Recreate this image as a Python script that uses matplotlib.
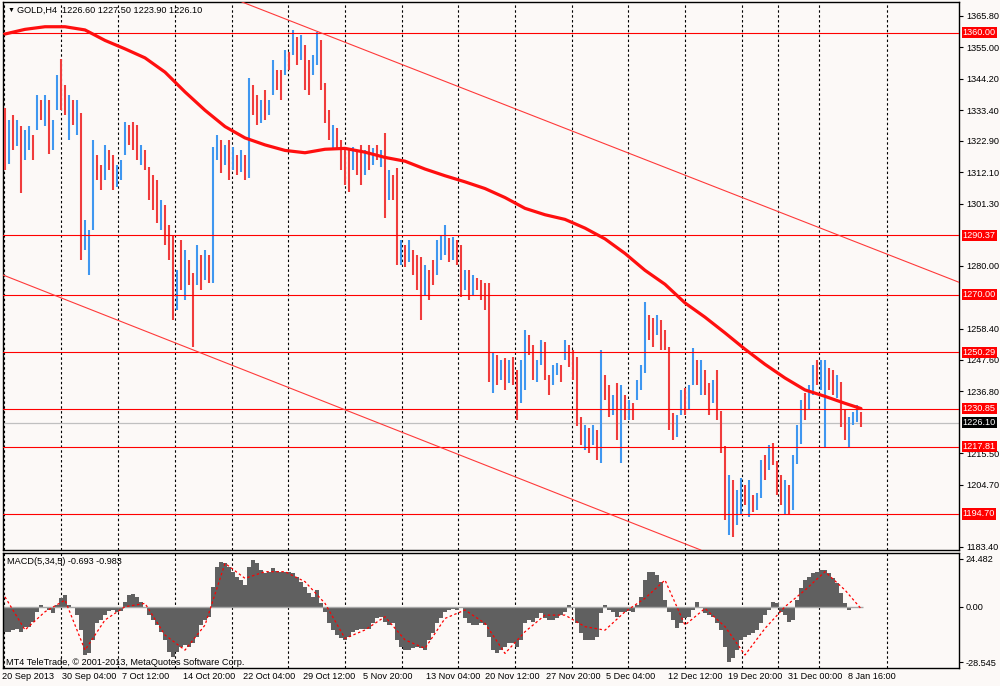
import numpy as np
import matplotlib
matplotlib.use("Agg")
import matplotlib.pyplot as plt
from matplotlib.transforms import blended_transform_factory

plt.rcParams['font.family'] = ['Liberation Sans', 'DejaVu Sans']

# GOLD H4 bars (one entry per bar)
highs = [1334.2, 1330.0, 1331.8, 1330.0, 1328.0, 1326.6, 1328.0, 1325.0, 1338.6, 1336.9,
         1338.6, 1336.9, 1330.0, 1345.5, 1351.0, 1342.0, 1338.6, 1336.9, 1336.9, 1332.5,
         1295.7, 1292.3, 1323.2, 1318.0, 1314.6, 1321.5, 1319.8, 1318.0, 1314.6, 1316.3,
         1329.4, 1328.3, 1329.4, 1328.3, 1321.5, 1319.8, 1313.9, 1311.2, 1309.4, 1302.6,
         1300.9, 1294.0, 1290.5, 1278.5, 1288.8, 1285.4, 1282.0, 1277.5, 1287.1, 1283.7,
         1285.4, 1283.7, 1320.8, 1324.9, 1323.2, 1321.5, 1323.2, 1320.8, 1318.0, 1319.8,
         1318.0, 1344.5, 1342.0, 1338.6, 1336.9, 1340.4, 1336.9, 1350.7, 1347.2, 1347.2,
         1354.1, 1353.4, 1361.0, 1358.6, 1359.3, 1355.8, 1350.7, 1352.4, 1360.3, 1357.6,
         1342.8, 1333.5, 1328.3, 1327.3, 1323.2, 1319.8, 1319.8, 1320.8, 1319.8, 1321.5,
         1319.8, 1321.5, 1320.4, 1321.5, 1319.8, 1325.6, 1312.9, 1311.2, 1313.6, 1288.8,
         1287.1, 1288.8, 1285.4, 1283.7, 1283.0, 1280.2, 1278.5, 1282.0, 1288.8, 1290.5,
         1294.0, 1289.5, 1289.8, 1288.8, 1287.1, 1278.5, 1278.5, 1276.8, 1275.8, 1275.1,
         1274.0, 1274.0, 1250.0, 1249.3, 1247.6, 1248.3, 1247.6, 1248.6, 1244.2, 1247.6,
         1257.9, 1256.2, 1252.8, 1247.6, 1254.5, 1253.8, 1242.4, 1245.9, 1246.6, 1245.9,
         1254.5, 1252.8, 1251.0, 1248.6, 1228.0, 1225.2, 1224.2, 1225.2, 1223.5, 1251.0,
         1242.4, 1239.0, 1235.5, 1239.7, 1239.0, 1235.5, 1233.8, 1232.8, 1240.7, 1245.9,
         1267.5, 1263.0, 1262.0, 1263.0, 1261.3, 1257.9, 1252.0, 1229.4, 1228.7, 1237.3,
         1238.0, 1239.0, 1251.7, 1247.6, 1247.6, 1244.2, 1239.7, 1240.7, 1244.2, 1230.0,
         1218.0, 1208.0, 1206.4, 1202.9, 1207.0, 1204.6, 1206.4, 1201.2, 1201.9, 1213.2,
         1214.9, 1218.4, 1219.0, 1213.0, 1208.0, 1206.4, 1204.6, 1214.9, 1225.2, 1233.8,
         1236.2, 1239.0, 1245.9, 1247.6, 1247.6, 1247.6, 1244.8, 1244.2, 1242.4, 1240.0,
         1230.4, 1228.0, 1229.7, 1232.1, 1229.7]
lows = [1312.9, 1315.0, 1319.8, 1321.0, 1305.0, 1316.3, 1319.8, 1316.3, 1326.6, 1330.0,
        1328.0, 1318.5, 1319.8, 1333.5, 1333.5, 1331.8, 1323.2, 1328.3, 1325.0, 1282.0,
        1285.4, 1276.8, 1292.3, 1309.4, 1306.0, 1309.4, 1312.9, 1306.0, 1307.0, 1309.4,
        1318.0, 1321.5, 1319.8, 1316.3, 1314.6, 1312.9, 1302.6, 1299.1, 1294.7, 1292.3,
        1287.1, 1282.0, 1261.3, 1264.8, 1271.6, 1268.2, 1273.4, 1252.0, 1273.4, 1271.6,
        1275.1, 1274.0, 1274.0, 1316.3, 1311.9, 1314.6, 1309.4, 1312.9, 1311.2, 1312.2,
        1309.4, 1310.0, 1331.8, 1328.3, 1329.0, 1330.0, 1331.8, 1338.6, 1340.4, 1336.9,
        1345.5, 1347.2, 1352.4, 1349.0, 1350.7, 1340.4, 1338.6, 1345.5, 1349.0, 1340.4,
        1329.0, 1323.2, 1319.8, 1319.8, 1312.9, 1307.7, 1305.3, 1312.9, 1311.2, 1307.7,
        1311.2, 1312.9, 1314.6, 1316.3, 1313.9, 1296.4, 1302.6, 1302.6, 1280.3, 1280.3,
        1279.5, 1281.3, 1276.8, 1271.6, 1261.3, 1269.9, 1268.2, 1273.4, 1276.8, 1282.0,
        1283.7, 1281.3, 1282.0, 1280.3, 1269.2, 1271.6, 1268.2, 1269.9, 1271.6, 1268.2,
        1264.8, 1240.0, 1236.2, 1239.0, 1240.7, 1237.3, 1239.7, 1239.0, 1227.0, 1232.8,
        1237.3, 1249.3, 1240.7, 1240.0, 1245.9, 1240.7, 1235.5, 1239.0, 1242.4, 1240.0,
        1247.6, 1245.2, 1240.7, 1225.0, 1218.4, 1216.7, 1215.6, 1218.4, 1213.2, 1212.2,
        1233.8, 1228.0, 1228.7, 1220.1, 1212.2, 1227.0, 1227.0, 1227.0, 1233.8, 1237.3,
        1243.0, 1254.5, 1252.2, 1256.2, 1251.0, 1251.0, 1223.5, 1220.1, 1221.1, 1228.7,
        1228.7, 1230.4, 1239.0, 1239.0, 1235.5, 1235.5, 1228.7, 1232.8, 1227.0, 1215.6,
        1192.6, 1187.5, 1186.8, 1191.0, 1194.3, 1197.8, 1193.7, 1195.4, 1196.0, 1200.0,
        1206.4, 1209.8, 1211.5, 1201.2, 1197.8, 1194.3, 1194.3, 1196.0, 1212.0, 1218.7,
        1227.0, 1230.4, 1235.5, 1239.0, 1237.3, 1217.7, 1237.3, 1235.5, 1234.5, 1224.5,
        1220.1, 1217.7, 1225.2, 1226.3, 1224.5]
closes = [1318, 1325, 1322, 1328, 1312, 1323, 1325, 1318, 1336, 1332,
          1335, 1320, 1327, 1343, 1338, 1333, 1335, 1330, 1334, 1285,
          1288, 1290, 1318, 1312, 1308, 1318, 1315, 1309, 1313, 1315,
          1327, 1324, 1321, 1318, 1320, 1314, 1305, 1301, 1297, 1300,
          1289, 1284, 1265, 1276, 1273, 1283, 1276, 1274, 1284, 1275,
          1282, 1277, 1318, 1322, 1315, 1320, 1312, 1318, 1313, 1316,
          1311, 1340, 1339, 1330, 1334, 1332, 1335, 1348, 1342, 1338,
          1352, 1349, 1359, 1351, 1356, 1343, 1340, 1350, 1357, 1343,
          1331, 1326, 1327, 1324, 1315, 1310, 1308, 1318, 1314, 1309,
          1317, 1314, 1318, 1317, 1318, 1300, 1309, 1304, 1284, 1286,
          1282, 1286, 1279, 1274, 1264, 1278, 1276, 1275, 1286, 1288,
          1291, 1284, 1288, 1283, 1272, 1277, 1270, 1275, 1273, 1270,
          1266, 1244, 1247, 1241, 1246, 1240, 1245, 1242, 1229, 1245,
          1254, 1251, 1243, 1246, 1252, 1244, 1238, 1244, 1245, 1242,
          1253, 1251, 1243, 1228, 1221, 1224, 1218, 1223, 1216, 1247,
          1236, 1230, 1233, 1223, 1236, 1229, 1232, 1229, 1239, 1244,
          1264, 1257, 1254, 1261, 1253, 1252, 1226, 1222, 1227, 1235,
          1230, 1237, 1249, 1241, 1245, 1238, 1231, 1238, 1230, 1218,
          1195, 1204, 1190, 1200, 1205, 1199, 1203, 1197, 1200, 1210,
          1208, 1216, 1213, 1203, 1200, 1204, 1196, 1212, 1222, 1230,
          1229, 1236, 1243, 1241, 1245, 1246, 1240, 1237, 1240, 1226,
          1222, 1226, 1228, 1229, 1226.1]

# thick moving average, sampled every 5 bars plus the last bar
ma_vals = [1359.6, 1361.2, 1362.1, 1362.1, 1361.0, 1357.4, 1354.5, 1351.4, 1346.5, 1339.7,
           1333.4, 1327.8, 1323.9, 1321.5, 1319.6, 1318.8, 1320.0, 1320.3, 1319.0, 1317.2,
           1315.9, 1313.2, 1310.9, 1308.8, 1306.5, 1303.4, 1299.7, 1297.5, 1295.9, 1292.9,
           1289.2, 1284.2, 1278.4, 1273.6, 1267.2, 1262.3, 1256.9, 1251.3, 1246.1, 1241.4,
           1237.3, 1235.1, 1232.7, 1230.9]

# MACD(5,34,5) main value per bar, signal sampled every 5 bars plus last
macd = [-12.8, -12.8, -11.9, -11.6, -12.8, -10.6, -10.2, -7.7, -2.6, 0.9,
        0.0, -1.7, -3.1, 0.9, 4.3, 6.0, 0.9, -0.9, -4.3, -11.9,
        -24.7, -23.9, -17.0, -8.5, -6.8, -4.3, -2.0, -1.7, -2.6, -2.0,
        2.6, 6.0, 6.5, 5.1, 2.6, -0.9, -4.3, -6.8, -9.4, -12.8,
        -17.0, -23.0, -25.6, -23.0, -20.5, -19.6, -20.5, -18.8, -15.3, -9.4,
        -6.8, -5.1, 10.2, 20.5, 23.0, 22.2, 20.5, 17.9, 15.3, 13.6,
        11.1, 20.5, 23.9, 22.2, 18.8, 17.0, 17.9, 19.6, 18.4, 17.9,
        17.9, 17.9, 17.0, 15.3, 12.8, 10.2, 6.8, 5.1, 8.5, 1.7,
        -2.6, -8.5, -11.9, -14.5, -16.2, -17.0, -15.3, -12.8, -11.9, -11.6,
        -11.6, -11.6, -8.5, -6.0, -5.1, -7.7, -9.4, -8.5, -17.0, -20.5,
        -22.2, -22.2, -21.3, -20.5, -21.3, -22.2, -17.0, -13.6, -8.5, -6.0,
        -2.6, -1.7, -1.4, -1.7, -0.9, -6.0, -8.5, -9.4, -9.4, -8.5,
        -9.4, -15.3, -22.2, -23.9, -22.2, -20.5, -18.8, -18.8, -20.5, -17.0,
        -8.5, -6.8, -7.7, -6.0, -3.4, -6.0, -6.8, -6.8, -6.0, -4.3,
        -2.6, 0.9, -0.9, -8.5, -13.6, -17.0, -17.0, -17.0, -15.3, -3.4,
        0.9, -1.7, -2.6, -5.1, -2.6, -2.6, -2.0, -2.6, 0.9, 5.1,
        13.6, 17.9, 17.9, 16.2, 12.8, 3.4, -2.6, -6.8, -11.1, -8.5,
        -6.0, -5.1, -1.7, 2.6, 0.0, -3.4, -4.3, -5.1, -8.5, -11.9,
        -20.5, -28.1, -26.4, -22.2, -17.0, -15.3, -14.5, -13.6, -11.9, -8.5,
        -4.3, -1.7, 2.6, 1.7, -2.6, -4.3, -7.7, -6.8, 3.4, 9.4,
        13.6, 15.3, 17.0, 17.9, 18.8, 18.8, 17.0, 14.5, 11.9, 6.8,
        1.7, -1.7, -0.9, -0.5, -0.7]
signal = [5.0, -11.9, -2.6, 3.4, -22.2, -6.8, 0.0, 1.7, -14.5, -22.2,
          -9.4, 22.2, 14.5, 17.9, 17.9, 12.8, 1.7, -16.2, -11.9, -5.1,
          -17.0, -21.3, -6.0, -1.7, -8.5, -23.9, -12.8, -4.3, -4.3, -10.2,
          -12.0, -2.6, 4.3, 13.6, -9.4, -0.9, -10.2, -24.7, -11.1, 0.0,
          8.5, 17.9, 8.5, -1.0]

levels = [1360.00, 1290.37, 1270.00, 1250.29, 1230.85, 1217.81, 1194.70]
last_price = 1226.10
# channel trend lines: (bar, price) anchors
upper_chan = [(60, 1370.2), (237, 1275.1)]
lower_chan = [(-0.5, 1276.8), (174.5, 1182.0)]

# scale labels still visible next to the level boxes
price_ticks = [1365.80, 1355.00, 1344.20, 1333.40, 1322.90, 1312.10, 1301.30, 1280.00,
               1258.40, 1247.60, 1236.80, 1215.50, 1204.70, 1183.40]
macd_ticks = [24.482, 0.0, -28.545]
macd_tick_labels = ['24.482', '0.00', '-28.545']
time_labels = ['20 Sep 2013', '30 Sep 04:00', '7 Oct 12:00', '14 Oct 20:00', '22 Oct 04:00',
               '29 Oct 12:00', '5 Nov 20:00', '13 Nov 04:00', '20 Nov 12:00', '27 Nov 20:00',
               '5 Dec 04:00', '12 Dec 12:00', '19 Dec 20:00', '31 Dec 00:00', '8 Jan 16:00']

# layout (pixel columns -> bar index: (px - 5) / 4)
label_px = [2, 62, 122, 183, 243, 303, 363, 426, 485, 546, 606, 668, 728, 788, 848]
grid_px = [4, 61, 118, 175, 232, 288, 345, 402, 458, 515, 572, 628, 685, 742, 778, 819, 887]

bg = '#fcf9f7'
blue = '#3f97f0'
red = '#f03c3c'
fs = 6.6

fig = plt.figure(figsize=(10, 6.86), dpi=100, facecolor=bg)
ax = fig.add_axes([0.003, 1 - 550 / 686, 0.956, 548 / 686], facecolor=bg)
mx = fig.add_axes([0.003, 1 - 668 / 686, 0.956, 115 / 686], facecolor=bg)

x = np.arange(len(highs))
closes = np.array(closes, dtype=float)
opens = np.r_[highs[0], closes[:-1]]
cols = np.where(closes >= opens, blue, red)

for a in (ax, mx):
    a.set_xlim(-0.5, 238.5)
    for gx in grid_px:
        a.axvline((gx - 5) / 4, color='black', lw=0.8, ls=(0, (2.2, 2.2)), zorder=1)
    for s in a.spines.values():
        s.set_color('black')
        s.set_linewidth(1.0)
    a.set_xticks([])
    a.yaxis.tick_right()
    a.tick_params(axis='y', direction='out', length=3, width=0.8, pad=2,
                  labelsize=fs, colors='black')

# main price panel
ax.vlines(x, lows, highs, colors=cols, linewidth=1.5, zorder=3)
ax.axhline(last_price, color='#c0c0c0', lw=0.9, zorder=2)
for lv in levels:
    ax.axhline(lv, color='#ff0000', lw=0.8, zorder=4)
ax.axline(upper_chan[0], upper_chan[1], color='#ff3a3a', lw=0.8, zorder=4)
ax.axline(lower_chan[0], lower_chan[1], color='#ff3a3a', lw=0.8, zorder=4)
ma_idx = np.r_[np.arange(0, len(highs) - 4, 5), len(highs) - 1]
ax.plot(ma_idx, ma_vals, color='#ff0f0f', lw=2.3, zorder=5, solid_capstyle='round')
ax.set_ylim(1182.3, 1370.6)
ax.set_yticks(price_ticks)
ax.set_yticklabels([f'{v:.2f}' for v in price_ticks])

tr = blended_transform_factory(ax.transAxes, ax.transData)
for lv in levels:
    ax.text(1.004, lv, f'{lv:.2f}', transform=tr, color='white', fontsize=fs,
            va='center', ha='left', clip_on=False, zorder=10,
            bbox=dict(boxstyle='square,pad=0.12', fc='#ff0000', ec='none'))
ax.text(1.004, last_price, f'{last_price:.2f}', transform=tr, color='white', fontsize=fs,
        va='center', ha='left', clip_on=False, zorder=10,
        bbox=dict(boxstyle='square,pad=0.12', fc='black', ec='none'))

fig.text(0.008, 1 - 10 / 686, '▼', fontsize=5, va='center', ha='left')
fig.text(0.017, 1 - 10 / 686, 'GOLD,H4  1226.60 1227.50 1223.90 1226.10', fontsize=fs,
         va='center', ha='left')

# MACD panel
mx.bar(x, macd, width=1.0, color='#606060', linewidth=0, zorder=2)
mx.hlines(0, x[0] - 0.5, x[-1] + 0.5, color='#a8a8a8', lw=1.0, zorder=2)
mx.plot(ma_idx, signal, color='#ff0000', lw=0.9, ls=(0, (2, 2)), zorder=3)
mx.set_ylim(-31.36, 27.47)
mx.set_yticks(macd_ticks)
mx.set_yticklabels(macd_tick_labels)
mx.text(0.004, 0.93, 'MACD(5,34,5) -0.693 -0.983', transform=mx.transAxes, fontsize=fs,
        va='center', ha='left')
mx.text(0.003, 0.05, 'MT4 TeleTrade, © 2001-2013, MetaQuotes Software Corp.',
        transform=mx.transAxes, fontsize=fs, va='center', ha='left')

trx = blended_transform_factory(mx.transData, mx.transAxes)
for lab, px in zip(time_labels, label_px):
    mx.text((px - 5) / 4, -0.078, lab, transform=trx, fontsize=fs, va='center',
            ha='left', clip_on=False)

fig.savefig('out.png', dpi=100, facecolor=bg)
